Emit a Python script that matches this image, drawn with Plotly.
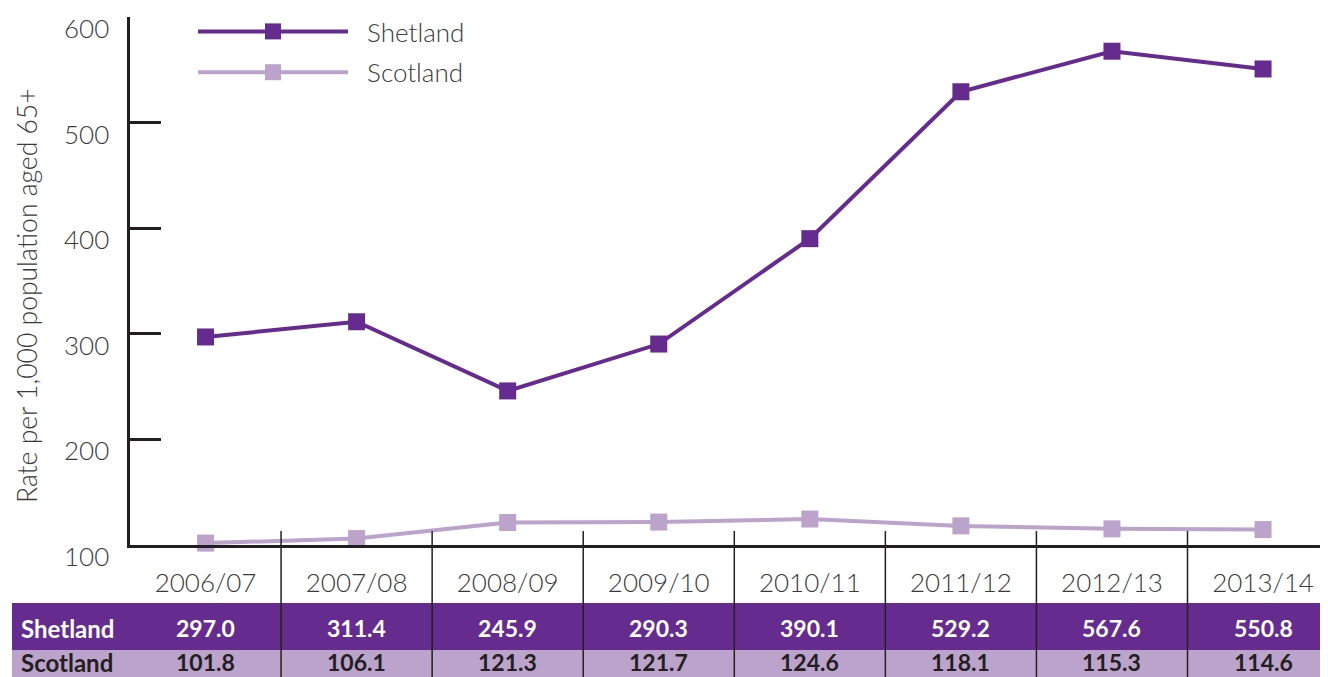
import plotly.graph_objects as go

years = ["2006/07", "2007/08", "2008/09", "2009/10", "2010/11", "2011/12", "2012/13", "2013/14"]
shetland = [297.0, 311.4, 245.9, 290.3, 390.1, 529.2, 567.6, 550.8]
scotland = [101.8, 106.1, 121.3, 121.7, 124.6, 118.1, 115.3, 114.6]
series_names = ["Shetland", "Scotland"]
y_ticks = [100, 200, 300, 400, 500, 600]
y_title = "Rate per 1,000 population aged 65+"

DARK = "#652b8f"
LIGHT = "#bca3cc"
INK = "#231f20"
TXT = "#3a3a3a"
FONT = "Lato"

# the page body has an 8px margin: work in screen pixels, convert to figure pixels
OFF = 8
W, H = 1328, 677
ML, MT = 130 - OFF, 17 - OFF
MB = H - (545 - OFF)
MR = OFF
plot_w = W - ML - MR
plot_h = H - MT - MB

def px(sx):
    return (sx - OFF - ML) / plot_w

def py(sy):
    return 1 - (sy - OFF - MT) / plot_h

x_idx = list(range(len(years)))

fig = go.Figure()
for name, vals, col in [(series_names[0], shetland, DARK), (series_names[1], scotland, LIGHT)]:
    fig.add_trace(go.Scatter(
        x=x_idx, y=vals, name="\u00a0\u00a0" + name, legendgroup=name,
        mode="lines+markers",
        line=dict(color=col, width=4),
        marker=dict(symbol="square", size=17, color=col),
        cliponaxis=False,
    ))

# Table rows
fig.add_shape(type="rect", xref="paper", yref="paper", x0=px(12), x1=1.01,
              y0=py(650), y1=py(603), fillcolor=DARK, line_width=0, layer="below")
fig.add_shape(type="rect", xref="paper", yref="paper", x0=px(12), x1=1.01,
              y0=py(700), y1=py(650), fillcolor=LIGHT, line_width=0, layer="below")

# Column separators
for i in range(len(years) - 1):
    fig.add_shape(type="line", xref="x", yref="paper", x0=i + 0.5, x1=i + 0.5,
                  y0=py(700), y1=py(531), line=dict(color=INK, width=1.5), layer="above")

# Row labels and values
for name, vals, tcol, sy in [(series_names[0], shetland, "white", 628),
                             (series_names[1], scotland, INK, 662)]:
    fig.add_annotation(xref="paper", yref="paper", x=px(19), y=py(sy),
                       text=f"<b>{name}</b>", showarrow=False, xanchor="left", yanchor="middle",
                       font=dict(family=FONT, size=24, color=tcol))
    for i, v in enumerate(vals):
        fig.add_annotation(xref="x", yref="paper", x=i, y=py(sy),
                           text=f"<b>{v:.1f}</b>", showarrow=False, xanchor="center", yanchor="middle",
                           font=dict(family=FONT, size=23, color=tcol))

# Y tick labels (sit slightly below their tick)
for t in y_ticks:
    fig.add_annotation(xref="paper", yref="y", x=px(111), y=t, yshift=-11,
                       text=str(t), showarrow=False, xanchor="right", yanchor="middle",
                       font=dict(family=FONT, size=26, color=TXT, weight=300))

# Y title
fig.add_annotation(xref="paper", yref="paper", x=px(27), y=py(296), textangle=-90,
                   text=y_title, showarrow=False, xanchor="center", yanchor="middle",
                   font=dict(family=FONT, size=26.5, color=TXT, weight=300))

fig.update_layout(
    width=W, height=H,
    margin=dict(l=ML, r=MR, t=MT, b=MB, autoexpand=False),
    plot_bgcolor="white", paper_bgcolor="white",
    font=dict(family=FONT, color=TXT, size=22, weight=300),
    showlegend=True,
    legend=dict(x=px(193), y=py(8), xanchor="left", yanchor="top",
                bgcolor="rgba(0,0,0,0)", itemwidth=150, tracegroupgap=4,
                font=dict(family=FONT, size=26, color=TXT, weight=300)),
    xaxis=dict(
        range=[-0.5, 7.43], tickmode="array", tickvals=x_idx, ticktext=years,
        showline=True, linecolor=INK, linewidth=2.5, showgrid=False, zeroline=False,
        ticks="", ticklabelstandoff=13, automargin=False,
        tickfont=dict(family=FONT, size=26, color=TXT, weight=300),
    ),
    yaxis=dict(
        range=[100, 600], tickmode="array", tickvals=y_ticks, showticklabels=False,
        showline=True, linecolor=INK, linewidth=2.5, showgrid=False, zeroline=False,
        ticks="inside", ticklen=31, tickwidth=2.5, tickcolor=INK, automargin=False,
    ),
)

fig.write_html("out.html")
